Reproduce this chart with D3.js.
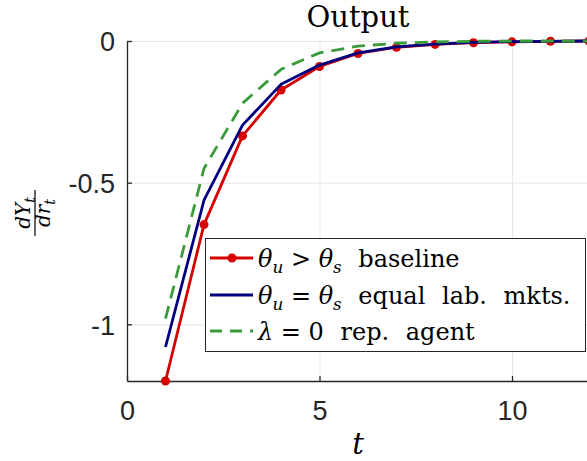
<!DOCTYPE html>
<html><head><meta charset="utf-8">
<script src="https://cdn.jsdelivr.net/npm/d3@7"></script>
<style>body{margin:0;background:#fff} svg{display:block} text{white-space:pre}</style>
</head><body>
<script>
// ---- data ----
const periods = [1, 2, 3, 4, 5, 6, 7, 8, 9, 10, 11, 12];
const baselineIRF = [-1.2, -0.648, -0.335, -0.173, -0.09, -0.044, -0.022, -0.012, -0.006, -0.003, -0.001, 0];
const equalLabIRF = [-1.08, -0.562, -0.297, -0.153, -0.085, -0.042, -0.021, -0.011, -0.005, -0.002, -0.001, 0];
const repAgentIRF = [-0.98, -0.45, -0.22, -0.10, -0.042, -0.018, -0.008, -0.003, -0.001, 0, 0, 0];
const xTicks = [0, 5, 10];
const xTickLabels = ["0", "5", "10"];
const yTicks = [0, -0.5, -1];
const yTickLabels = ["0", "-0.5", "-1"];
const xDomain = [0, 12];
const yDomain = [-1.2, 0];
const titleText = "Output";
const xLabelText = "t";
// legend labels as [text, style] segments (i = math italic, sub = subscript, txt = text mode)
const legendBaseline = [["θ", "i"], ["u", "sub"], [" > ", ""], ["θ", "i"], ["s", "sub"], [" baseline", "txt"]];
const legendEqual = [["θ", "i"], ["u", "sub"], [" = ", ""], ["θ", "i"], ["s", "sub"], [" equal lab. mkts.", "txt"]];
const legendRep = [["λ", "i"], [" = 0", ""], [" rep. agent", "txt"]];

const W = 587, H = 461;
const serif = "'DejaVu Serif', serif";
const sans = "'Liberation Sans', Arial, sans-serif";
const axisCol = "#262626";

const svg = d3.select("body").append("svg").attr("width", W).attr("height", H);

const x = d3.scaleLinear(xDomain, [127, 589]);
const y = d3.scaleLinear(yDomain, [381, 41]);

// grid
svg.append("g").attr("transform", `translate(0,${y(yDomain[0])})`)
  .call(d3.axisBottom(x).tickValues(xTicks.filter(d => d !== 0)).tickSize(-(y(yDomain[0]) - y(yDomain[1]))).tickFormat(""))
  .call(g => g.select(".domain").remove())
  .call(g => g.selectAll("line").attr("stroke", "#e6e6e6").attr("stroke-width", 1));
svg.append("g").attr("transform", `translate(${x(xDomain[0])},0)`)
  .call(d3.axisLeft(y).tickValues(yTicks).tickSize(-(x(xDomain[1]) - x(xDomain[0]))).tickFormat(""))
  .call(g => g.select(".domain").remove())
  .call(g => g.selectAll("line").attr("stroke", "#e6e6e6").attr("stroke-width", 1));

// axes
const xAxis = svg.append("g").attr("transform", `translate(0,${y(yDomain[0])})`)
  .call(d3.axisBottom(x).tickValues(xTicks).tickFormat((d, i) => xTickLabels[i]).tickSizeInner(-5).tickSizeOuter(0).tickPadding(20));
const yAxis = svg.append("g").attr("transform", `translate(${x(xDomain[0])},0)`)
  .call(d3.axisLeft(y).tickValues(yTicks).tickFormat((d, i) => yTickLabels[i]).tickSizeInner(-5).tickSizeOuter(0).tickPadding(12));
[xAxis, yAxis].forEach(g => {
  g.select(".domain").attr("stroke", axisCol).attr("stroke-width", 1.3);
  g.selectAll(".tick line").attr("stroke", axisCol).attr("stroke-width", 1.3);
  g.selectAll(".tick text").attr("fill", axisCol).attr("font-family", sans).attr("font-size", 27);
});
yAxis.selectAll(".tick text").attr("dy", "0.36em");

// series
const line = d3.line().x((d, i) => x(periods[i])).y(d => y(d));
const red = "#d60000", blue = "#00007f", green = "#3b9b3b";
svg.append("path").datum(baselineIRF).attr("d", line).attr("fill", "none").attr("stroke", red).attr("stroke-width", 2.8).attr("stroke-linejoin", "round");
svg.append("g").selectAll("circle").data(baselineIRF).join("circle")
  .attr("cx", (d, i) => x(periods[i])).attr("cy", d => y(d)).attr("r", 4.5).attr("fill", red);
svg.append("path").datum(equalLabIRF).attr("d", line).attr("fill", "none").attr("stroke", blue).attr("stroke-width", 2.8).attr("stroke-linejoin", "round");
svg.append("path").datum(repAgentIRF).attr("d", line).attr("fill", "none").attr("stroke", green).attr("stroke-width", 2.8).attr("stroke-dasharray", "13,8");

// title
svg.append("text").attr("x", 358).attr("y", 26.5).attr("text-anchor", "middle")
  .attr("font-family", serif).attr("font-size", 29).attr("fill", "#000").text(titleText);
// x label
svg.append("text").attr("x", 358).attr("y", 454).attr("text-anchor", "middle")
  .attr("font-family", serif).attr("font-style", "italic").attr("font-size", 29).attr("fill", "#000").text(xLabelText);

function mathText(g, segs, size) {
  const t = g.append("text").attr("font-family", serif).attr("font-size", size).attr("fill", "#000");
  let pending = 0;
  segs.forEach(([s, st]) => {
    const sp = t.append("tspan").text(s);
    if (st === "sub") {
      sp.attr("font-style", "italic").attr("font-size", size * 0.7).attr("dy", pending + size * 0.25);
      pending = -size * 0.25;
    } else {
      if (pending) sp.attr("dy", pending);
      pending = 0;
      if (st === "i") sp.attr("font-style", "italic");
      if (st === "txt") sp.attr("word-spacing", 9);
    }
  });
  return t;
}

// y label (fraction)
const yl = svg.append("g").attr("transform", "translate(35,213) rotate(-90)");
yl.append("line").attr("x1", -23).attr("x2", 23).attr("y1", 0).attr("y2", 0).attr("stroke", "#000").attr("stroke-width", 1.2);
mathText(yl, [["dY", "i"], ["t", "sub"]], 20).attr("text-anchor", "middle").attr("y", -5);
mathText(yl, [["dr", "i"], ["t", "sub"]], 20).attr("text-anchor", "middle").attr("y", 15);

// legend
const lg = svg.append("g");
lg.append("rect").attr("x", 205.5).attr("y", 238.5).attr("width", 380).attr("height", 113)
  .attr("fill", "#fff").attr("stroke", axisCol).attr("stroke-width", 1);
const legendItems = [
  { segs: legendBaseline, color: red, dash: null, marker: true, cy: 258 },
  { segs: legendEqual, color: blue, dash: null, marker: false, cy: 295 },
  { segs: legendRep, color: green, dash: "12,8", marker: false, cy: 331 }
];
legendItems.forEach(it => {
  lg.append("line").attr("x1", 210).attr("x2", 253).attr("y1", it.cy).attr("y2", it.cy)
    .attr("stroke", it.color).attr("stroke-width", 2.8).attr("stroke-dasharray", it.dash);
  if (it.marker) lg.append("circle").attr("cx", 232).attr("cy", it.cy).attr("r", 4.5).attr("fill", it.color);
  mathText(lg, it.segs, 24).attr("x", 258).attr("y", it.cy + 8.5);
});
</script>
</body></html>
